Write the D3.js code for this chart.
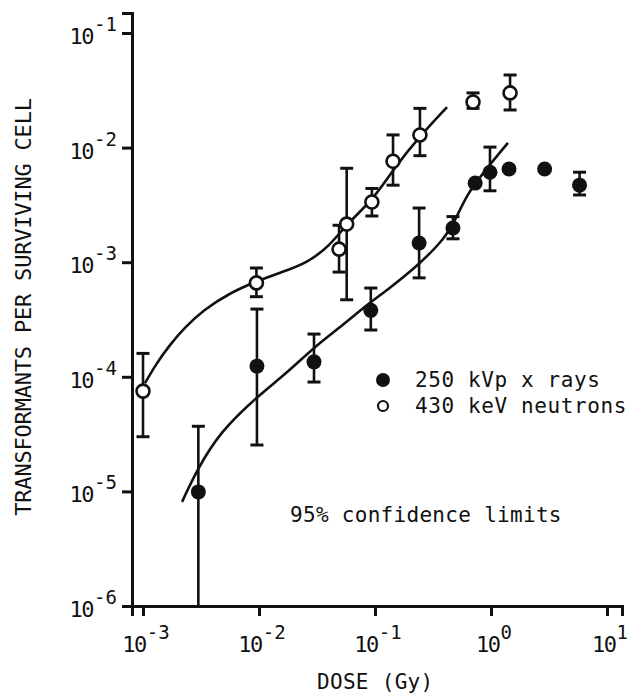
<!DOCTYPE html>
<html>
<head>
<meta charset="utf-8">
<script src="https://cdn.jsdelivr.net/npm/d3@7"></script>
<style>
  body { margin: 0; background: #fff; }
  text { font-family: "DejaVu Sans Mono", monospace; fill: #111; }
</style>
</head>
<body>
<div id="chart"></div>
<script>
// 430 keV neutrons (open circles)
const neutronDose = [0.001, 0.0095, 0.049, 0.057, 0.094, 0.143, 0.244, 0.70, 1.46];
const neutronValue = [7.5e-5, 6.6e-4, 1.3e-3, 2.15e-3, 3.35e-3, 7.6e-3, 1.29e-2, 2.5e-2, 3.0e-2];
const neutronLow = [3.0e-5, 5.0e-4, 8.2e-4, 4.7e-4, 2.53e-3, 4.7e-3, 8.5e-3, 2.2e-2, 2.13e-2];
const neutronHigh = [1.6e-4, 8.9e-4, 2.1e-3, 6.6e-3, 4.4e-3, 1.29e-2, 2.2e-2, 3.0e-2, 4.3e-2];

// 250 kVp x rays (filled circles)
const xrayDose = [0.003, 0.0096, 0.0298, 0.092, 0.24, 0.47, 0.73, 0.98, 1.43, 2.9, 5.8];
const xrayValue = [9.9e-6, 1.24e-4, 1.35e-4, 3.8e-4, 1.47e-3, 1.99e-3, 4.9e-3, 6.1e-3, 6.5e-3, 6.5e-3, 4.7e-3];
const xrayLow = [1e-6, 2.54e-5, 9.0e-5, 2.56e-4, 7.3e-4, 1.6e-3, null, 4.2e-3, null, null, 3.86e-3];
const xrayHigh = [3.7e-5, 3.9e-4, 2.36e-4, 5.95e-4, 2.97e-3, 2.5e-3, null, 1.01e-2, null, null, 6.1e-3];

// fitted curves
const neutronFitDose = [1.04e-3, 1.3e-3, 1.7e-3, 2.3e-3, 3.29e-3, 5.6e-3, 9.8e-3, 0.0152, 0.0259, 0.041, 0.057, 0.096, 0.149, 0.244, 0.418];
const neutronFitValue = [8.8e-5, 1.3e-4, 1.9e-4, 2.7e-4, 3.8e-4, 5.4e-4, 6.9e-4, 8.1e-4, 9.8e-4, 1.4e-3, 2.15e-3, 3.5e-3, 6.8e-3, 1.26e-2, 2.26e-2];
const xrayFitDose = [2.17e-3, 2.92e-3, 4.61e-3, 9.6e-3, 0.0174, 0.0292, 0.053, 0.085, 0.127, 0.230, 0.40, 0.509, 0.621, 0.853, 1.40];
const xrayFitValue = [8.1e-6, 1.54e-5, 3.3e-5, 6.7e-5, 1.08e-4, 1.78e-4, 2.83e-4, 4.24e-4, 5.7e-4, 9.2e-4, 1.6e-3, 2.5e-3, 3.9e-3, 6.0e-3, 1.10e-2];

const xTickExp = [-3, -2, -1, 0, 1];
const yTickExp = [-6, -5, -4, -3, -2, -1];
const legendLabels = ["250 kVp x rays", "430 keV neutrons"];
const yLabel = "TRANSFORMANTS PER SURVIVING CELL";
const xLabel = "DOSE (Gy)";
const note = "95% confidence limits";

const width = 635, height = 700;
const ink = "#111";

const x0 = d3.scaleLog().domain([1e-3, 10]).range([143, 607]);
const xScale = d3.scaleLog().domain([x0.invert(132), x0.invert(622)]).range([132, 622]);
const y0 = d3.scaleLog().domain([1e-6, 1e-1]).range([606, 33]);
const yScale = d3.scaleLog().domain([1e-6, y0.invert(13)]).range([606, 13]);

const svg = d3.select("#chart").append("svg")
  .attr("width", width)
  .attr("height", height)
  .attr("viewBox", [0, 0, width, height]);

// x-axis
svg.append("g")
  .attr("transform", `translate(0,606)`)
  .call(d3.axisBottom(xScale).tickValues(xTickExp.map(e => 10 ** e)).tickFormat("").tickSizeOuter(0).tickSize(10))
  .call(g => g.select(".domain").attr("stroke", ink).attr("stroke-width", 3))
  .call(g => g.selectAll(".tick line").attr("stroke", ink).attr("stroke-width", 3));

// y-axis
svg.append("g")
  .attr("transform", `translate(132,0)`)
  .call(d3.axisLeft(yScale).tickValues(yTickExp.map(e => 10 ** e)).tickFormat("").tickSizeOuter(0).tickSize(10))
  .call(g => g.select(".domain").attr("stroke", ink).attr("stroke-width", 3))
  .call(g => g.selectAll(".tick line").attr("stroke", ink).attr("stroke-width", 3));

// tick labels as 10^n
const powLabel = (sel, e) => {
  sel.append("tspan").attr("font-size", 22).attr("letter-spacing", -1.5).text("10");
  sel.append("tspan").attr("font-size", 19).attr("dx", 1).attr("dy", -13).text(e);
};

xTickExp.forEach(e => {
  const t = svg.append("text")
    .attr("x", xScale(10 ** e) + 3)
    .attr("y", 652)
    .attr("text-anchor", "middle");
  powLabel(t, e);
});

yTickExp.forEach(e => {
  const t = svg.append("text")
    .attr("x", 117)
    .attr("y", y0(10 ** e) + 11)
    .attr("text-anchor", "end");
  powLabel(t, e);
});

// fitted curves
const line = d3.line()
  .x(d => xScale(d[0]))
  .y(d => yScale(d[1]))
  .curve(d3.curveBasis);

svg.append("path")
  .datum(d3.zip(neutronFitDose, neutronFitValue))
  .attr("d", line)
  .attr("fill", "none")
  .attr("stroke", ink)
  .attr("stroke-width", 2.6);

svg.append("path")
  .datum(d3.zip(xrayFitDose, xrayFitValue))
  .attr("d", line)
  .attr("fill", "none")
  .attr("stroke", ink)
  .attr("stroke-width", 2.6);

// error bars
const drawErrors = (dose, low, high) => {
  const g = svg.append("g").attr("stroke", ink).attr("stroke-width", 2.6);
  dose.forEach((d, i) => {
    if (low[i] == null) return;
    const cx = xScale(d);
    const yl = yScale(Math.max(low[i], 1e-6));
    const yh = yScale(high[i]);
    g.append("line").attr("x1", cx).attr("x2", cx).attr("y1", yh).attr("y2", yl);
    g.append("line").attr("x1", cx - 6.5).attr("x2", cx + 6.5).attr("y1", yh).attr("y2", yh).attr("stroke-width", 3);
    if (low[i] > 1e-6) {
      g.append("line").attr("x1", cx - 6.5).attr("x2", cx + 6.5).attr("y1", yl).attr("y2", yl).attr("stroke-width", 3);
    }
  });
};
drawErrors(neutronDose, neutronLow, neutronHigh);
drawErrors(xrayDose, xrayLow, xrayHigh);

// points
svg.append("g")
  .selectAll("circle")
  .data(d3.zip(xrayDose, xrayValue))
  .join("circle")
  .attr("cx", d => xScale(d[0]))
  .attr("cy", d => yScale(d[1]))
  .attr("r", 7.5)
  .attr("fill", ink);

svg.append("g")
  .selectAll("circle")
  .data(d3.zip(neutronDose, neutronValue))
  .join("circle")
  .attr("cx", d => xScale(d[0]))
  .attr("cy", d => yScale(d[1]))
  .attr("r", 6.5)
  .attr("fill", "#fff")
  .attr("stroke", ink)
  .attr("stroke-width", 2.6);

// legend
const legend = svg.append("g").attr("transform", "translate(383,380)");
legend.append("circle").attr("cx", 0).attr("cy", 0).attr("r", 7).attr("fill", ink);
legend.append("circle").attr("cx", 0).attr("cy", 26).attr("r", 5).attr("fill", "#fff")
  .attr("stroke", ink).attr("stroke-width", 2.2);
legendLabels.forEach((name, i) => {
  legend.append("text")
    .attr("x", 32)
    .attr("y", 7 + i * 26)
    .attr("font-size", 21)
    .attr("letter-spacing", 0.6)
    .text(name);
});

svg.append("text")
  .attr("x", 290)
  .attr("y", 522)
  .attr("font-size", 21)
  .attr("letter-spacing", 0.3)
  .text(note);

// axis titles
svg.append("text")
  .attr("x", 317)
  .attr("y", 689)
  .attr("font-size", 21)
  .attr("letter-spacing", 0.3)
  .text(xLabel);

svg.append("text")
  .attr("transform", "translate(31,307) rotate(-90)")
  .attr("text-anchor", "middle")
  .attr("font-size", 22)
  .attr("letter-spacing", -0.2)
  .text(yLabel);
</script>
</body>
</html>
